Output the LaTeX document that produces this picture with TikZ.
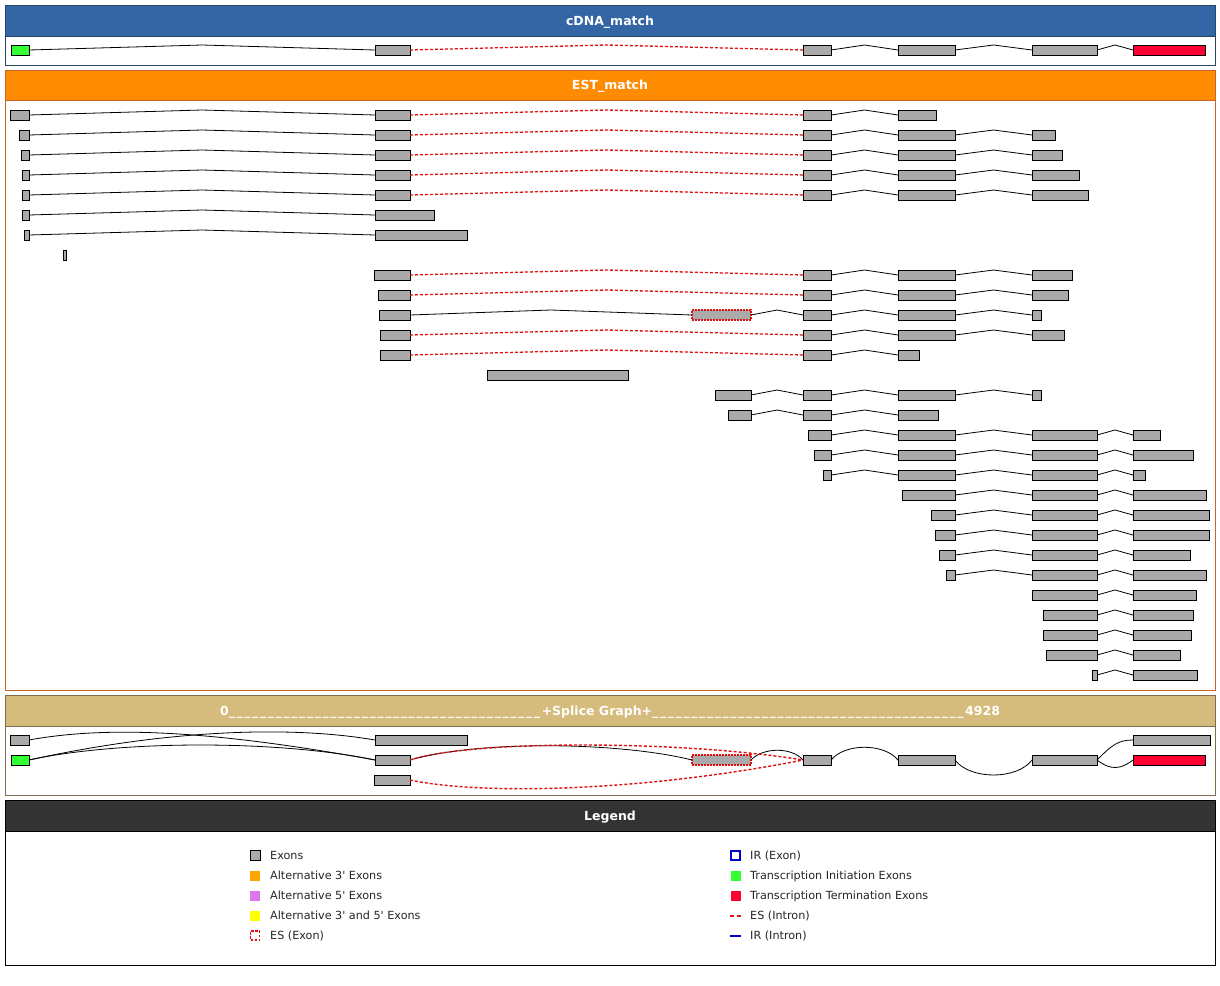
\documentclass[tikz,border=0pt]{standalone}
\usepackage{fontspec}
\setmainfont{DejaVu Sans}
\usetikzlibrary{calc}

\definecolor{cdnablue}{RGB}{52,101,164}
\definecolor{cdnaedge}{RGB}{40,70,105}
\definecolor{estorange}{RGB}{255,140,0}
\definecolor{estedge}{RGB}{200,100,40}
\definecolor{sgtan}{RGB}{214,188,124}
\definecolor{sgedge}{RGB}{125,110,80}
\definecolor{legdark}{RGB}{51,51,51}
\definecolor{exongray}{RGB}{170,170,170}
\definecolor{initgreen}{RGB}{51,255,51}
\definecolor{termred}{RGB}{255,0,51}
\definecolor{esred}{RGB}{225,15,15}
\definecolor{irblue}{RGB}{0,0,204}
\definecolor{altthree}{RGB}{255,165,0}
\definecolor{altfive}{RGB}{221,119,238}
\definecolor{altboth}{RGB}{255,255,0}

\tikzset{
  exon/.style={draw=black, fill=exongray, anchor=west, minimum height=10, inner sep=0, outer sep=0, line width=0.9},
  init/.style={exon, fill=initgreen},
  term/.style={exon, fill=termred},
  esexon/.style={exon, draw=esred, dash pattern=on 2 off 1, line width=1.2},
  intron/.style={black, line width=0.8, to path={-- ($(\tikztostart)!0.5!(\tikztotarget)+(0,-5)$) -- (\tikztotarget)}},
  esintron/.style={intron, esred, dash pattern=on 3 off 2, line width=1.3},
  sgcurve/.style={black, line width=0.8},
  sgescurve/.style={esred, dash pattern=on 3 off 2, line width=1.4},
  title/.style={text=white, anchor=base, font=\bfseries\fontsize{12.5}{14}\selectfont},
  legsq/.style={minimum size=10, inner sep=0, outer sep=0},
  legtext/.style={anchor=base west, inner sep=0, text=black!85, font=\fontsize{11.2}{13}\selectfont},
}

\begin{document}
\begin{tikzpicture}[x=1pt,y=-1pt]
\useasboundingbox (0,0) rectangle (1220,985);
\fill[white] (0,0) rectangle (1220,985);

% panels
\filldraw[fill=cdnablue, draw=cdnaedge, line width=1] (5,5) rectangle (1215,36);
\draw[cdnaedge, line width=1] (5,5) rectangle (1215,65);
\node[title] (cdnatitle) at (610,25) {cDNA\_match};

\filldraw[fill=estorange, draw=estedge, line width=1] (5,70) rectangle (1215,100);
\draw[estedge, line width=1] (5,70) rectangle (1215,690);
\node[title] (esttitle) at (610,89.5) {EST\_match};

\filldraw[fill=sgtan, draw=sgedge, line width=1] (5,695) rectangle (1215,726);
\draw[sgedge, line width=1] (5,695) rectangle (1215,795);
\node[title] (sgtitle) at (610,715.5) {\makebox[780pt]{0\xleaders\hbox{\_\kern1.5pt}\hfill+Splice Graph+\xleaders\hbox{\_\kern1.5pt}\hfill4928}};

\filldraw[fill=legdark, draw=black, line width=1] (5,800) rectangle (1215,831);
\draw[black, line width=1] (5,800) rectangle (1215,965);
\node[title] (legtitle) at (610,820) {Legend};

% cDNA
\node[init, minimum width=18] (c1) at (11,50) {};
\node[exon, minimum width=35] (c2) at (375,50) {};
\node[exon, minimum width=28] (c3) at (803,50) {};
\node[exon, minimum width=57] (c4) at (898,50) {};
\node[exon, minimum width=65] (c5) at (1032,50) {};
\node[term, minimum width=72] (c6) at (1133,50) {};
\draw[intron] (c1.east) to (c2.west) (c3.east) to (c4.west) (c4.east) to (c5.west) (c5.east) to (c6.west);
\draw[esintron] (c2.east) to (c3.west);

% EST rows
\node[exon, minimum width=19] (e1a) at (10,115) {};
\node[exon, minimum width=35] (e1b) at (375,115) {};
\node[exon, minimum width=28] (e1c) at (803,115) {};
\node[exon, minimum width=38] (e1d) at (898,115) {};
\draw[intron] (e1a.east) to (e1b.west) (e1c.east) to (e1d.west);
\draw[esintron] (e1b.east) to (e1c.west);

\node[exon, minimum width=10] (e2a) at (19,135) {};
\node[exon, minimum width=35] (e2b) at (375,135) {};
\node[exon, minimum width=28] (e2c) at (803,135) {};
\node[exon, minimum width=57] (e2d) at (898,135) {};
\node[exon, minimum width=23] (e2e) at (1032,135) {};
\draw[intron] (e2a.east) to (e2b.west) (e2c.east) to (e2d.west) (e2d.east) to (e2e.west);
\draw[esintron] (e2b.east) to (e2c.west);

\node[exon, minimum width=8] (e3a) at (21,155) {};
\node[exon, minimum width=35] (e3b) at (375,155) {};
\node[exon, minimum width=28] (e3c) at (803,155) {};
\node[exon, minimum width=57] (e3d) at (898,155) {};
\node[exon, minimum width=30] (e3e) at (1032,155) {};
\draw[intron] (e3a.east) to (e3b.west) (e3c.east) to (e3d.west) (e3d.east) to (e3e.west);
\draw[esintron] (e3b.east) to (e3c.west);

\node[exon, minimum width=7] (e4a) at (22,175) {};
\node[exon, minimum width=35] (e4b) at (375,175) {};
\node[exon, minimum width=28] (e4c) at (803,175) {};
\node[exon, minimum width=57] (e4d) at (898,175) {};
\node[exon, minimum width=47] (e4e) at (1032,175) {};
\draw[intron] (e4a.east) to (e4b.west) (e4c.east) to (e4d.west) (e4d.east) to (e4e.west);
\draw[esintron] (e4b.east) to (e4c.west);

\node[exon, minimum width=7] (e5a) at (22,195) {};
\node[exon, minimum width=35] (e5b) at (375,195) {};
\node[exon, minimum width=28] (e5c) at (803,195) {};
\node[exon, minimum width=57] (e5d) at (898,195) {};
\node[exon, minimum width=56] (e5e) at (1032,195) {};
\draw[intron] (e5a.east) to (e5b.west) (e5c.east) to (e5d.west) (e5d.east) to (e5e.west);
\draw[esintron] (e5b.east) to (e5c.west);

\node[exon, minimum width=7] (e6a) at (22,215) {};
\node[exon, minimum width=59] (e6b) at (375,215) {};
\draw[intron] (e6a.east) to (e6b.west);

\node[exon, minimum width=5] (e7a) at (24,235) {};
\node[exon, minimum width=92] (e7b) at (375,235) {};
\draw[intron] (e7a.east) to (e7b.west);

\node[exon, minimum width=3] (e8a) at (63,255) {};

\node[exon, minimum width=36] (e9a) at (374,275) {};
\node[exon, minimum width=28] (e9b) at (803,275) {};
\node[exon, minimum width=57] (e9c) at (898,275) {};
\node[exon, minimum width=40] (e9d) at (1032,275) {};
\draw[esintron] (e9a.east) to (e9b.west);
\draw[intron] (e9b.east) to (e9c.west) (e9c.east) to (e9d.west);

\node[exon, minimum width=32] (e10a) at (378,295) {};
\node[exon, minimum width=28] (e10b) at (803,295) {};
\node[exon, minimum width=57] (e10c) at (898,295) {};
\node[exon, minimum width=36] (e10d) at (1032,295) {};
\draw[esintron] (e10a.east) to (e10b.west);
\draw[intron] (e10b.east) to (e10c.west) (e10c.east) to (e10d.west);

\node[exon, minimum width=31] (e11a) at (379,315) {};
\node[esexon, minimum width=59] (e11b) at (692,315) {};
\node[exon, minimum width=28] (e11c) at (803,315) {};
\node[exon, minimum width=57] (e11d) at (898,315) {};
\node[exon, minimum width=9] (e11e) at (1032,315) {};
\draw[intron] (e11a.east) to (e11b.west) (e11b.east) to (e11c.west) (e11c.east) to (e11d.west) (e11d.east) to (e11e.west);

\node[exon, minimum width=30] (e12a) at (380,335) {};
\node[exon, minimum width=28] (e12b) at (803,335) {};
\node[exon, minimum width=57] (e12c) at (898,335) {};
\node[exon, minimum width=32] (e12d) at (1032,335) {};
\draw[esintron] (e12a.east) to (e12b.west);
\draw[intron] (e12b.east) to (e12c.west) (e12c.east) to (e12d.west);

\node[exon, minimum width=30] (e13a) at (380,355) {};
\node[exon, minimum width=28] (e13b) at (803,355) {};
\node[exon, minimum width=21] (e13c) at (898,355) {};
\draw[esintron] (e13a.east) to (e13b.west);
\draw[intron] (e13b.east) to (e13c.west);

\node[exon, minimum width=141] (e14a) at (487,375) {};

\node[exon, minimum width=36] (e15a) at (715,395) {};
\node[exon, minimum width=28] (e15b) at (803,395) {};
\node[exon, minimum width=57] (e15c) at (898,395) {};
\node[exon, minimum width=9] (e15d) at (1032,395) {};
\draw[intron] (e15a.east) to (e15b.west) (e15b.east) to (e15c.west) (e15c.east) to (e15d.west);

\node[exon, minimum width=23] (e16a) at (728,415) {};
\node[exon, minimum width=28] (e16b) at (803,415) {};
\node[exon, minimum width=40] (e16c) at (898,415) {};
\draw[intron] (e16a.east) to (e16b.west) (e16b.east) to (e16c.west);

\node[exon, minimum width=23] (e17a) at (808,435) {};
\node[exon, minimum width=57] (e17b) at (898,435) {};
\node[exon, minimum width=65] (e17c) at (1032,435) {};
\node[exon, minimum width=27] (e17d) at (1133,435) {};
\draw[intron] (e17a.east) to (e17b.west) (e17b.east) to (e17c.west) (e17c.east) to (e17d.west);

\node[exon, minimum width=17] (e18a) at (814,455) {};
\node[exon, minimum width=57] (e18b) at (898,455) {};
\node[exon, minimum width=65] (e18c) at (1032,455) {};
\node[exon, minimum width=60] (e18d) at (1133,455) {};
\draw[intron] (e18a.east) to (e18b.west) (e18b.east) to (e18c.west) (e18c.east) to (e18d.west);

\node[exon, minimum width=8] (e19a) at (823,475) {};
\node[exon, minimum width=57] (e19b) at (898,475) {};
\node[exon, minimum width=65] (e19c) at (1032,475) {};
\node[exon, minimum width=12] (e19d) at (1133,475) {};
\draw[intron] (e19a.east) to (e19b.west) (e19b.east) to (e19c.west) (e19c.east) to (e19d.west);

\node[exon, minimum width=53] (e20a) at (902,495) {};
\node[exon, minimum width=65] (e20b) at (1032,495) {};
\node[exon, minimum width=73] (e20c) at (1133,495) {};
\draw[intron] (e20a.east) to (e20b.west) (e20b.east) to (e20c.west);

\node[exon, minimum width=24] (e21a) at (931,515) {};
\node[exon, minimum width=65] (e21b) at (1032,515) {};
\node[exon, minimum width=76] (e21c) at (1133,515) {};
\draw[intron] (e21a.east) to (e21b.west) (e21b.east) to (e21c.west);

\node[exon, minimum width=20] (e22a) at (935,535) {};
\node[exon, minimum width=65] (e22b) at (1032,535) {};
\node[exon, minimum width=76] (e22c) at (1133,535) {};
\draw[intron] (e22a.east) to (e22b.west) (e22b.east) to (e22c.west);

\node[exon, minimum width=16] (e23a) at (939,555) {};
\node[exon, minimum width=65] (e23b) at (1032,555) {};
\node[exon, minimum width=57] (e23c) at (1133,555) {};
\draw[intron] (e23a.east) to (e23b.west) (e23b.east) to (e23c.west);

\node[exon, minimum width=9] (e24a) at (946,575) {};
\node[exon, minimum width=65] (e24b) at (1032,575) {};
\node[exon, minimum width=73] (e24c) at (1133,575) {};
\draw[intron] (e24a.east) to (e24b.west) (e24b.east) to (e24c.west);

\node[exon, minimum width=65] (e25a) at (1032,595) {};
\node[exon, minimum width=63] (e25b) at (1133,595) {};
\draw[intron] (e25a.east) to (e25b.west);

\node[exon, minimum width=54] (e26a) at (1043,615) {};
\node[exon, minimum width=60] (e26b) at (1133,615) {};
\draw[intron] (e26a.east) to (e26b.west);

\node[exon, minimum width=54] (e27a) at (1043,635) {};
\node[exon, minimum width=58] (e27b) at (1133,635) {};
\draw[intron] (e27a.east) to (e27b.west);

\node[exon, minimum width=51] (e28a) at (1046,655) {};
\node[exon, minimum width=47] (e28b) at (1133,655) {};
\draw[intron] (e28a.east) to (e28b.west);

\node[exon, minimum width=5] (e29a) at (1092,675) {};
\node[exon, minimum width=64] (e29b) at (1133,675) {};
\draw[intron] (e29a.east) to (e29b.west);

% splice graph
\node[exon, minimum width=19] (sa) at (10,740) {};
\node[exon, minimum width=92] (sb) at (375,740) {};
\node[exon, minimum width=77] (sh) at (1133,740) {};
\node[init, minimum width=18] (sg) at (11,760) {};
\node[exon, minimum width=35] (sc) at (375,760) {};
\node[esexon, minimum width=59] (ses) at (692,760) {};
\node[exon, minimum width=28] (se3) at (803,760) {};
\node[exon, minimum width=57] (se4) at (898,760) {};
\node[exon, minimum width=65] (se5) at (1032,760) {};
\node[term, minimum width=72] (st) at (1133,760) {};
\node[exon, minimum width=36] (sd) at (374,780) {};

\draw[sgcurve] (sa.east) .. controls (100,727) and (200,728) .. (sc.west);
\draw[sgcurve] (sg.east) .. controls (180,727) and (300,727) .. (sb.west);
\draw[sgcurve] (sg.east) .. controls (120,740) and (280,740) .. (sc.west);
\draw[sgcurve] (sc.east) .. controls (480,740) and (620,742) .. (ses.west);
\draw[sgcurve] (ses.east) .. controls (763,747) and (792,747) .. (se3.west);
\draw[sgcurve] (se3.east) .. controls (845,743) and (884,743) .. (se4.west);
\draw[sgcurve] (se4.east) .. controls (970,780) and (1017,780) .. (se5.west);
\draw[sgcurve] (se5.east) .. controls (1112,745) and (1118,740) .. (sh.west);
\draw[sgcurve] (se5.east) .. controls (1110,770) and (1120,770) .. (st.west);
\draw[sgescurve] (sc.east) .. controls (470,740) and (680,740) .. (se3.west);
\draw[sgescurve] (sd.east) .. controls (480,795) and (640,792) .. (se3.west);

% legend
\node[legsq, draw=black, fill=exongray, line width=0.9] (lg1) at (255,855.5) {};
\node[legsq, fill=altthree] (lg2) at (255,875.5) {};
\node[legsq, fill=altfive] (lg3) at (255,895.5) {};
\node[legsq, fill=altboth] (lg4) at (255,915.5) {};
\node[legsq, minimum size=9, draw=esred, dash pattern=on 2.5 off 1.5, line width=1.6] (lg5) at (255,935.5) {};
\node[legtext] (lt1) at (270,859.5) {Exons};
\node[legtext] (lt2) at (270,879.5) {Alternative 3\textquotesingle{} Exons};
\node[legtext] (lt3) at (270,899.5) {Alternative 5\textquotesingle{} Exons};
\node[legtext] (lt4) at (270,919.5) {Alternative 3\textquotesingle{} and 5\textquotesingle{} Exons};
\node[legtext] (lt5) at (270,939.5) {ES (Exon)};

\node[legsq, minimum size=9, draw=irblue, line width=1.8] (lr1) at (735.5,855.5) {};
\node[legsq, fill=initgreen] (lr2) at (735.5,875.5) {};
\node[legsq, fill=termred] (lr3) at (735.5,895.5) {};
\coordinate (lr4a) at (730,915.5);
\coordinate (lr4b) at (741,915.5);
\coordinate (lr5a) at (730,935.5);
\coordinate (lr5b) at (741,935.5);
\draw[esred, dash pattern=on 4 off 3, line width=2] (lr4a) -- (lr4b);
\draw[irblue, line width=2] (lr5a) -- (lr5b);
\node[legtext] (rt1) at (750,859.5) {IR (Exon)};
\node[legtext] (rt2) at (750,879.5) {Transcription Initiation Exons};
\node[legtext] (rt3) at (750,899.5) {Transcription Termination Exons};
\node[legtext] (rt4) at (750,919.5) {ES (Intron)};
\node[legtext] (rt5) at (750,939.5) {IR (Intron)};
\end{tikzpicture}
\end{document}
